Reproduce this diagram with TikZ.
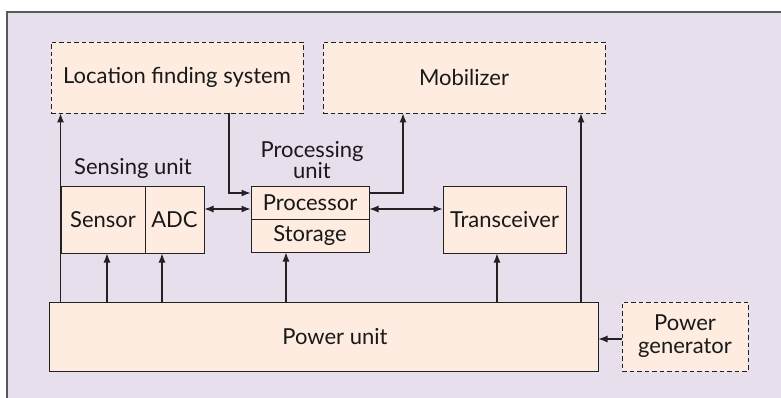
\documentclass[tikz,border=0pt]{standalone}
\usepackage{fontspec}
\setmainfont{Lato}
\usetikzlibrary{arrows.meta}
\definecolor{bglav}{HTML}{E8DFED}
\definecolor{boxpeach}{HTML}{FDECDF}
\definecolor{lnc}{HTML}{222222}
\begin{document}
\begin{tikzpicture}[x=1pt,y=-1pt,
  every node/.style={font=\fontsize{22}{20.5}\selectfont, text=black!90},
  sbox/.style={draw=lnc, line width=1pt, fill=boxpeach, rectangle, inner sep=0pt},
  dbox/.style={sbox, line width=0.9pt, dash pattern=on 4.5pt off 3pt},
  arr/.style={draw=lnc, line width=1.1pt, -{Latex[length=9pt,width=7pt]}},
  darr/.style={draw=lnc, line width=1.1pt, {Latex[length=9pt,width=7pt]}-{Latex[length=9pt,width=7pt]}},
  ln/.style={draw=lnc, line width=1.1pt}]
\useasboundingbox (0,0) rectangle (781,398);
\fill[white] (0,0) rectangle (781,398);
\fill[bglav] (7,12) rectangle (781,398);
\draw[black!65, line width=1.2pt] (7,398) -- (7,12) -- (781,12);
% boxes
\node[dbox, minimum width=252pt, minimum height=71pt] (loc) at (177,77.5) {Location finding system};
\node[dbox, minimum width=282pt, minimum height=71pt] (mob) at (464,77.5) {Mobilizer};
\node[sbox, minimum width=84pt, minimum height=66pt] (sensor) at (103,220) {Sensor};
\node[sbox, minimum width=59pt, minimum height=66pt] (adc) at (174.5,220) {ADC};
\node[sbox, minimum width=118pt, minimum height=32pt] (proc) at (310,203) {Processor};
\node[sbox, minimum width=118pt, minimum height=33pt] (stor) at (310,235.5) {Storage};
\node[sbox, minimum width=123pt, minimum height=66pt] (trx) at (504.5,220) {Transceiver};
\node[sbox, minimum width=549pt, minimum height=69pt, label={[xshift=11.5pt]center:Power unit}] (pwr) at (323.5,336.5) {};
\node[dbox, minimum width=126pt, minimum height=69pt, align=center, font=\fontsize{22}{23}\selectfont] (gen) at (685,336.5) {Power\\generator};
% labels
\node (slab) at (133,168) {Sensing unit};
\node[align=center] (plab) at (312,160) {Processing\\unit};
% helper coordinates
\coordinate (xs) at (107,0);
\coordinate (xa) at (162,0);
\coordinate (xp) at (286,0);
\coordinate (xt) at (497,0);
\coordinate (xr) at (581,0);
\coordinate (xl) at (229,0);
\coordinate (xm) at (403,0);
\coordinate (ya) at (0,193);
\coordinate (yb) at (0,209);
\coordinate (yc) at (0,339);
% connectors
\draw[arr] (pwr.north -| sensor.west) -- (loc.south -| sensor.west);
\draw[arr] (pwr.north -| xs) -- (sensor.south -| xs);
\draw[arr] (pwr.north -| xa) -- (adc.south -| xa);
\draw[arr] (pwr.north -| xp) -- (stor.south -| xp);
\draw[arr] (pwr.north -| xt) -- (trx.south -| xt);
\draw[arr] (pwr.north -| xr) -- (mob.south -| xr);
\draw[arr] (loc.south -| xl) |- (proc.west |- ya);
\draw[arr] (proc.east |- ya) -| (mob.south -| xm);
\draw[darr] (adc.east |- yb) -- (proc.west |- yb);
\draw[darr] (proc.east |- yb) -- (trx.west |- yb);
\draw[arr] (gen.west |- yc) -- (pwr.east |- yc);
\end{tikzpicture}
\end{document}
